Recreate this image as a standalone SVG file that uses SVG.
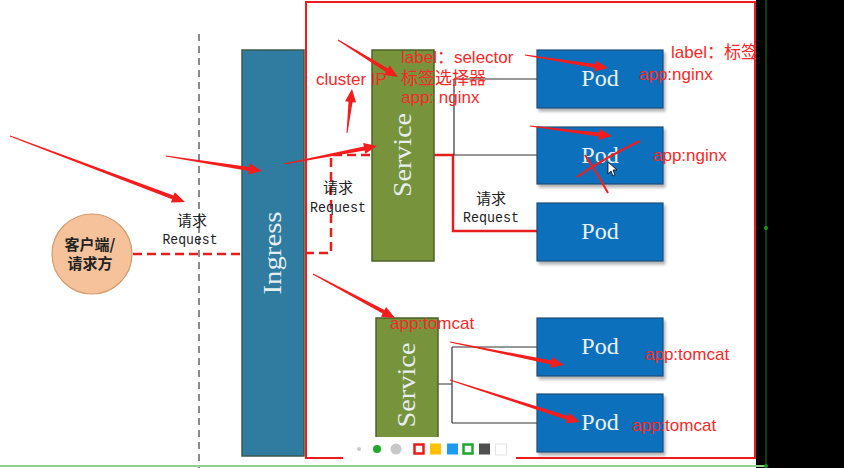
<svg xmlns="http://www.w3.org/2000/svg" width="844" height="468" viewBox="0 0 844 468">
<defs>
<style>
.ing{fill:#307ca1;stroke:#3e5a4e;stroke-width:1.5}
.svc{fill:#77933c;stroke:#4f6228;stroke-width:1.5}
.pod{fill:#0b6fbd;stroke:#1f4e79;stroke-width:1.2;filter:url(#sh)}
.vt{font-family:"Liberation Serif",serif;font-size:26px;fill:#e6eef0;text-anchor:middle}
.pt{font-family:"Liberation Serif",serif;font-size:24px;fill:#e8f0f8;text-anchor:middle}
.cn{font-family:"Noto Sans CJK SC",sans-serif;font-size:15px;fill:#222;text-anchor:middle}
.rq{font-family:"Liberation Mono",monospace;font-size:14px;fill:#222;text-anchor:middle}
.red{font-family:"Liberation Sans","Noto Sans CJK SC",sans-serif;font-size:17px;fill:#f42a2a}
.dash{fill:none;stroke:#e61d1d;stroke-width:2.5;stroke-dasharray:9 5}
.thin{fill:none;stroke:#333;stroke-width:1.2}
.arr{fill:#f41c1c}
</style>
<filter id="sh" x="-10%" y="-10%" width="130%" height="140%">
<feDropShadow dx="2" dy="3" stdDeviation="1.5" flood-color="#000" flood-opacity="0.3"/>
</filter>
</defs>
<rect x="0" y="0" width="756" height="468" fill="#fff"/>

<line x1="199" y1="34" x2="199" y2="468" stroke="#666" stroke-width="1.5" stroke-dasharray="7 5"/>
<rect id="frame" x="306" y="2" width="449" height="456" fill="none" stroke="#ee1c1c" stroke-width="2"/>

<g id="connectors">
<line class="dash" x1="133" y1="254" x2="242" y2="254"/>
<path class="dash" d="M305,253 H331 V155 H372"/>
<path d="M434,155 H453 V231 H537" fill="none" stroke="#e61d1d" stroke-width="2.5"/>
<path class="thin" d="M454,79 H537 M454,79 V155 H537"/>
<path class="thin" d="M438,384 H452 M452,347 V423 M452,347 H537 M452,423 H537"/>
</g>

<g id="client">
<circle cx="92" cy="254" r="40" fill="#f5c29c" stroke="#d49a6a" stroke-width="1.2"/>
<text class="cn" x="90" y="250" font-size="16" font-weight="bold">客户端/</text>
<text class="cn" x="90" y="269" font-size="16" font-weight="bold">请求方</text>
</g>

<g id="label-request-1">
<text class="cn" x="192" y="226">请求</text>
<text class="rq" x="190" y="244" textLength="55" lengthAdjust="spacingAndGlyphs">Request</text>
</g>
<g id="label-request-2">
<text class="cn" x="338" y="193">请求</text>
<text class="rq" x="338" y="212" textLength="56" lengthAdjust="spacingAndGlyphs">Request</text>
</g>
<g id="label-request-3">
<text class="cn" x="491" y="204">请求</text>
<text class="rq" x="491" y="222" textLength="56" lengthAdjust="spacingAndGlyphs">Request</text>
</g>

<g id="ingress">
<rect class="ing" x="242" y="50" width="62" height="406"/>
<text class="vt" transform="translate(281,253) rotate(-90)" textLength="83" lengthAdjust="spacingAndGlyphs">Ingress</text>
</g>

<g id="service1">
<rect class="svc" x="372" y="50" width="62" height="211"/>
<text class="vt" transform="translate(411,155) rotate(-90)" textLength="84" lengthAdjust="spacingAndGlyphs">Service</text>
</g>
<g id="service2">
<rect class="svc" x="376" y="318" width="62" height="138"/>
<text class="vt" transform="translate(415,385) rotate(-90)" textLength="85" lengthAdjust="spacingAndGlyphs">Service</text>
</g>

<g id="pod1"><rect class="pod" x="537" y="50" width="126" height="58"/><text class="pt" x="600" y="86">Pod</text></g>
<g id="pod2"><rect class="pod" x="537" y="127" width="126" height="57"/><text class="pt" x="600" y="163">Pod</text></g>
<g id="pod3"><rect class="pod" x="537" y="203" width="126" height="58"/><text class="pt" x="600" y="239">Pod</text></g>
<g id="pod4"><rect class="pod" x="537" y="318" width="126" height="58"/><text class="pt" x="600" y="354">Pod</text></g>
<g id="pod5"><rect class="pod" x="537" y="394" width="126" height="58"/><text class="pt" x="600" y="430">Pod</text></g>

<g id="annotations">
<text class="red" x="401" y="63">label：selector</text>
<text class="red" x="401" y="84">标签选择器</text>
<text class="red" x="401" y="103">app: nginx</text>
<text class="red" x="316" y="85">cluster IP</text>
<text class="red" x="671" y="58">label：标签</text>
<text class="red" x="639" y="80">app:nginx</text>
<text class="red" x="653" y="161">app:nginx</text>
<text class="red" x="390" y="329">app:tomcat</text>
<text class="red" x="645" y="360">app:tomcat</text>
<text class="red" x="632" y="431">app:tomcat</text>

<polygon class="arr" points="9.82,136.47 172.12,199.28 170.89,202.56 185,202 174.77,192.26 173.54,195.54 10.18,135.53"/>
<polygon class="arr" points="165.92,156.49 248.85,170.97 248.31,174.42 262,171 250.01,163.56 249.47,167.01 166.08,155.51"/>
<polygon class="arr" points="284.1,164.49 364.62,150.43 365.29,153.87 377,146 363.19,143.07 363.86,146.51 283.9,163.51"/>
<polygon class="arr" points="347.5,133.06 352.52,102.15 356,102.54 352,89 345.06,101.3 348.54,101.69 346.5,132.94"/>
<polygon class="arr" points="337.74,40.43 385.88,71.88 384.04,74.86 398,77 389.82,65.5 387.98,68.48 338.26,39.57"/>
<polygon class="arr" points="524.92,55.49 594.85,67.97 594.31,71.42 608,68 596.01,60.56 595.47,64.01 525.08,54.51"/>
<polygon class="arr" points="529.94,126.5 598.86,136.42 598.43,139.89 612,136 599.77,128.97 599.34,132.44 530.06,125.5"/>
<polygon class="arr" points="312.76,274.44 382.6,313.61 380.94,316.7 395,318 386.14,307 384.49,310.09 313.24,273.56"/>
<polygon class="arr" points="449.9,342.49 550.86,364.39 550.17,367.82 564,365 552.35,357.04 551.66,360.47 450.1,341.51"/>
<polygon class="arr" points="449.85,380.48 567.02,419.9 565.94,423.23 580,422 569.32,412.77 568.25,416.1 450.15,379.52"/>

<path d="M577,177 Q606,157 640,141" fill="none" stroke="#f41c1c" stroke-width="2"/>
<path d="M585,155 Q598,174 608,193" fill="none" stroke="#f41c1c" stroke-width="2"/>
<polygon points="608,162 608,174 611,171 613,176 615,175 613,170 617,170" fill="#fff" stroke="#000" stroke-width="0.8"/>
</g>

<rect x="756" y="0" width="88" height="468" fill="#000"/>
<line x1="766" y1="0" x2="766" y2="466" stroke="#1b7a1b" stroke-width="1"/>
<circle cx="766" cy="228" r="2" fill="#1b9a1b"/>
<line x1="0" y1="466" x2="766" y2="466" stroke="#8fcf8f" stroke-width="2"/>
<circle cx="766" cy="466" r="2" fill="#1b9a1b"/>

<g id="toolbar">
<rect x="343" y="437" width="173" height="28" fill="#fff"/>
<circle cx="359" cy="449" r="2" fill="#c8c8c8"/>
<circle cx="377" cy="449" r="4" fill="#1fa82a"/>
<circle cx="396" cy="449" r="5.5" fill="#c8c8c8"/>
<rect x="414.5" y="444.5" width="9" height="9" fill="#fff" stroke="#e81c1c" stroke-width="2.5"/>
<rect x="430" y="443.5" width="11" height="11" fill="#ffc000"/>
<rect x="447" y="443.5" width="11" height="11" fill="#1e9af0"/>
<rect x="463.5" y="444.5" width="9" height="9" fill="#fff" stroke="#1fa82a" stroke-width="2.5"/>
<rect x="479" y="443.5" width="11" height="11" fill="#505050"/>
<rect x="495.5" y="444" width="11" height="11" fill="#fff" stroke="#e4e4e4" stroke-width="1"/>
</g>
</svg>
